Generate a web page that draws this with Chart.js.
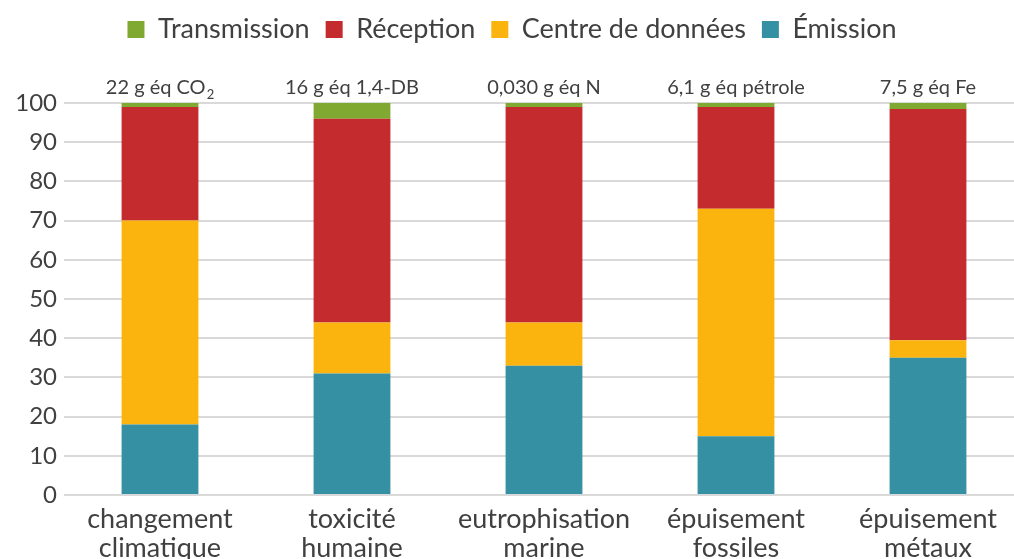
<!DOCTYPE html>
<html>
<head>
<meta charset="utf-8">
<script src="https://cdn.jsdelivr.net/npm/chart.js@4"></script>
<style>
  body { margin: 0; overflow: hidden; background: #fff; }
</style>
</head>
<body>
<canvas id="impacts" width="1040" height="580"></canvas>
<script>
// Catégories d'impact (deux lignes par étiquette)
const categories = [
    ['changement', 'climatique'],
    ['toxicité', 'humaine'],
    ['eutrophisation', 'marine'],
    ['épuisement', 'fossiles'],
    ['épuisement', 'métaux']
];
// Valeur totale affichée au-dessus de chaque barre
const totals = ['22 g éq CO|2', '16 g éq 1,4-DB', '0,030 g éq N', '6,1 g éq pétrole', '7,5 g éq Fe'];

// Parts en % (de bas en haut)
const emission = [18, 31, 33, 15, 35];
const centreDonnees = [52, 13, 11, 58, 4.5];
const reception = [29, 52, 55, 26, 59];
const transmission = [1, 4, 1, 1, 1.5];

const yTicks = [0, 10, 20, 30, 40, 50, 60, 70, 80, 90, 100];

const textColor = '#404040';

// texte au-dessus des barres (avec indice pour CO2)
const totalsPlugin = {
    id: 'totals',
    afterDatasetsDraw(chart) {
        const ctx = chart.ctx;
        const x = chart.scales.x;
        const y = chart.scales.y;
        ctx.save();
        ctx.fillStyle = textColor;
        ctx.textBaseline = 'alphabetic';
        ctx.textAlign = 'left';
        totals.forEach((t, i) => {
            const parts = t.split('|');
            const cx = x.getPixelForValue(i);
            const top = y.getPixelForValue(100) - 9;
            ctx.font = '20px Lato';
            const w1 = ctx.measureText(parts[0]).width;
            let w2 = 0;
            if (parts[1]) {
                ctx.font = '13px Lato';
                w2 = ctx.measureText(parts[1]).width + 1;
            }
            const left = cx - (w1 + w2) / 2;
            ctx.font = '20px Lato';
            ctx.fillText(parts[0], left, top);
            if (parts[1]) {
                ctx.font = '13px Lato';
                ctx.fillText(parts[1], left + w1 + 1, top + 5);
            }
        });
        ctx.restore();
    }
};

// hauteur fixe de la légende pour placer la zone du graphique
const legendHeight = {
    id: 'legendHeight',
    afterInit(chart) {
        const fit = chart.legend.fit;
        chart.legend.fit = function() {
            fit.bind(chart.legend)();
            this.height = 103;
        };
    }
};

new Chart(document.getElementById('impacts'), {
    type: 'bar',
    data: {
        labels: categories,
        datasets: [
            { label: 'Émission', data: emission, backgroundColor: '#3690a4' },
            { label: 'Centre de données', data: centreDonnees, backgroundColor: '#fbb30d' },
            { label: 'Réception', data: reception, backgroundColor: '#c32b2f' },
            { label: 'Transmission', data: transmission, backgroundColor: '#80a932' }
        ]
    },
    options: {
        responsive: false,
        animation: false,
        layout: { padding: { left: 0, right: 16, top: 0, bottom: 0 } },
        datasets: {
            bar: { categoryPercentage: 1, barPercentage: 0.4 }
        },
        scales: {
            x: {
                stacked: true,
                grid: { display: false },
                border: { display: false },
                ticks: {
                    color: textColor,
                    font: { family: 'Lato', size: 27, lineHeight: 1.1 },
                    padding: 1,
                    maxRotation: 0
                },
                afterFit(scale) { scale.height = 85; }
            },
            y: {
                stacked: true,
                min: 0,
                max: 100,
                afterBuildTicks(scale) { scale.ticks = yTicks.map(v => ({ value: v })); },
                grid: { color: '#d9d9d9', lineWidth: 2, drawTicks: false },
                border: { display: false },
                ticks: {
                    color: textColor,
                    font: { family: 'Lato', size: 24 },
                    padding: 7
                },
                afterFit(scale) { scale.width = 64; }
            }
        },
        plugins: {
            legend: {
                reverse: true,
                labels: {
                    color: textColor,
                    font: { family: 'Lato', size: 27 },
                    boxWidth: 17,
                    boxHeight: 17,
                    padding: 16
                }
            },
            tooltip: { enabled: false }
        }
    },
    plugins: [totalsPlugin, legendHeight]
});
</script>
</body>
</html>
